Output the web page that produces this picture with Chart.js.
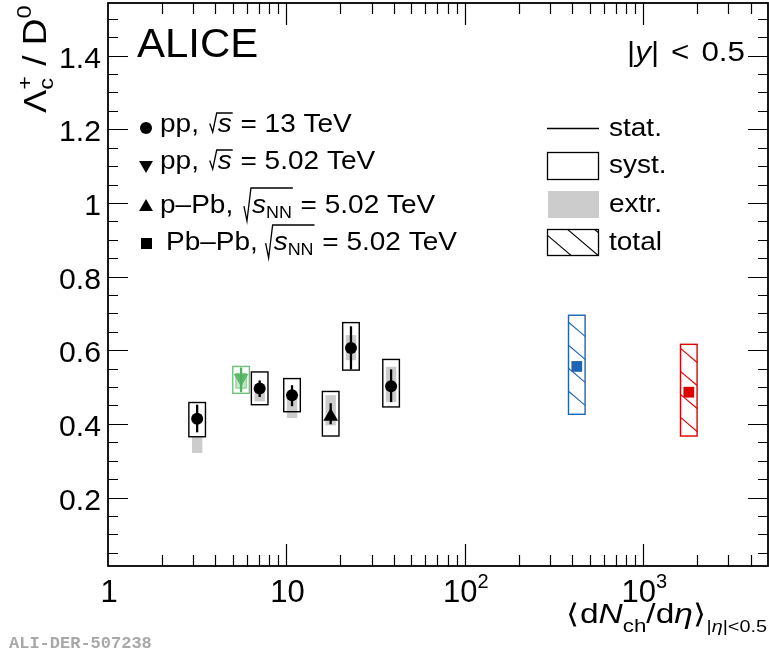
<!DOCTYPE html>
<html>
<head>
<meta charset="utf-8">
<script src="https://cdn.jsdelivr.net/npm/chart.js@4.4.1/dist/chart.umd.min.js"></script>
<style>
  html, body { margin: 0; padding: 0; background: #fff; }
  canvas { display: block; }
</style>
</head>
<body>
<canvas id="myChart" width="769" height="654"></canvas>
<script>
// pp, sqrt(s) = 13 TeV
const pp13X = [3.16, 7.08, 10.75, 23.0, 38.6];
const pp13Y = [0.414, 0.496, 0.478, 0.606, 0.502];
const pp13StatLo = [0.377, 0.473, 0.448, 0.548, 0.459];
const pp13StatHi = [0.452, 0.518, 0.505, 0.665, 0.548];
const pp13SystLo = [0.365, 0.452, 0.433, 0.546, 0.446];
const pp13SystHi = [0.458, 0.541, 0.523, 0.675, 0.575];
const pp13ExtrLo = [0.321, 0.461, 0.416, 0.573, 0.459];
const pp13ExtrHi = [0.365, 0.496, 0.470, 0.641, 0.555];

// pp, sqrt(s) = 5.02 TeV
const pp5X = [5.57];
const pp5Y = [0.524];
const pp5StatLo = [0.486];
const pp5StatHi = [0.553];
const pp5SystLo = [0.483];
const pp5SystHi = [0.556];
const pp5ExtrLo = [0.497];
const pp5ExtrHi = [0.537];

// p-Pb, sqrt(sNN) = 5.02 TeV
const pPbX = [17.7];
const pPbY = [0.420];
const pPbStatLo = [0.399];
const pPbStatHi = [0.456];
const pPbSystLo = [0.367];
const pPbSystHi = [0.488];
const pPbExtrLo = [0.396];
const pPbExtrHi = [0.478];

// Pb-Pb, sqrt(sNN) = 5.02 TeV (total uncertainty only)
const pbpbX = [424, 1799];
const pbpbY = [0.556, 0.486];
const pbpbTotLo = [0.426, 0.367];
const pbpbTotHi = [0.695, 0.616];
const pbpbColors = ['rgb(30,100,180)', 'rgb(222,0,0)'];

// axes
const xMin = 1, xMax = 5000;
const yMin = 0.014, yMax = 1.543;
const xTickVals = [1, 10, 100, 1000];
const xTickBase = ['1', '10', '10', '10'];
const xTickExp = ['', '', '2', '3'];
const yTickVals = [0.2, 0.4, 0.6, 0.8, 1.0, 1.2, 1.4];
const yTickLabels = ['0.2', '0.4', '0.6', '0.8', '1', '1.2', '1.4'];

const SANS = '"Liberation Sans", Arial, Helvetica, sans-serif';
const HW = 8.3;   // half width of syst boxes (px)
const GW = 5.2;   // half width of extr boxes (px)
const SX = 1.12;  // horizontal text stretch of the original
const GREEN = 'rgb(80,178,95)';
const GREEN_BOX = 'rgb(110,195,120)';

const zip = (xs, ys) => xs.map((x, i) => ({ x: x, y: ys[i] }));

function setFont(ctx, size, italic) {
    ctx.font = (italic ? 'italic ' : '') + size + 'px ' + SANS;
}

function partsWidth(ctx, parts, sx) {
    sx = sx || 1;
    let w = 0;
    for (const p of parts) {
        if (p.sqrt) { w += 9 + partsWidth(ctx, p.sqrt, sx); continue; }
        setFont(ctx, p.s, p.i);
        if (!p.noAdv) w += ctx.measureText(p.t).width * sx + (p.gap || 0);
    }
    return w;
}

function drawParts(ctx, x, y, parts, align, sx) {
    sx = sx || 1;
    if (align === 'right') x -= partsWidth(ctx, parts, sx);
    else if (align === 'center') x -= partsWidth(ctx, parts, sx) / 2;
    ctx.textAlign = 'left';
    ctx.textBaseline = 'alphabetic';
    let cx = x;
    for (const p of parts) {
        if (p.sqrt) {
            const inner = partsWidth(ctx, p.sqrt, sx);
            ctx.beginPath();
            ctx.moveTo(cx, y + p.bot - 0.45 * (p.top + p.bot));
            ctx.lineTo(cx + 3, y + p.bot);
            ctx.lineTo(cx + 7, y - p.top);
            ctx.lineTo(cx + 9 + inner, y - p.top);
            ctx.lineWidth = 1.3;
            ctx.strokeStyle = '#000';
            ctx.stroke();
            drawParts(ctx, cx + 8, y, p.sqrt, 'left', sx);
            cx += 9 + inner;
            continue;
        }
        setFont(ctx, p.s, p.i);
        ctx.save();
        ctx.translate(cx, y + (p.dy || 0));
        ctx.scale(sx, 1);
        ctx.fillText(p.t, 0, 0);
        ctx.restore();
        if (!p.noAdv) cx += ctx.measureText(p.t).width * sx + (p.gap || 0);
    }
}

function hatch(ctx, l, t, w, h, color) {
    ctx.save();
    ctx.beginPath();
    ctx.rect(l, t, w, h);
    ctx.clip();
    ctx.strokeStyle = color;
    ctx.lineWidth = 1.1;
    const slope = 0.85, sp = 23;
    const cMin = t - slope * (l + w), cMax = t + h - slope * l;
    for (let k = Math.floor(cMin / sp); k * sp <= cMax; k++) {
        const c = k * sp;
        ctx.beginPath();
        ctx.moveTo(l, slope * l + c);
        ctx.lineTo(l + w, slope * (l + w) + c);
        ctx.stroke();
    }
    ctx.restore();
}

function triPath(ctx, x, y, r, down) {
    const s = down ? -1 : 1;
    ctx.beginPath();
    ctx.moveTo(x, y - s * r);
    ctx.lineTo(x + r * 0.866, y + s * r / 2);
    ctx.lineTo(x - r * 0.866, y + s * r / 2);
    ctx.closePath();
}

// grey extr, syst boxes, stat bars, hatched totals
const errorPlugin = {
    id: 'errors',
    beforeDatasetsDraw(chart) {
        const ctx = chart.ctx;
        const xs = chart.scales.x, ys = chart.scales.y;
        ctx.save();
        chart.data.datasets.forEach(ds => {
            const e = ds.errs;
            ds.data.forEach((pt, i) => {
                const px = xs.getPixelForValue(pt.x);
                if (e.totLo) {
                    const t = ys.getPixelForValue(e.totHi[i]), b = ys.getPixelForValue(e.totLo[i]);
                    const col = e.colors[i];
                    hatch(ctx, px - HW, t, 2 * HW, b - t, col);
                    ctx.strokeStyle = col;
                    ctx.lineWidth = 1.4;
                    ctx.strokeRect(px - HW, t, 2 * HW, b - t);
                    return;
                }
                // extr
                let t = ys.getPixelForValue(e.extrHi[i]), b = ys.getPixelForValue(e.extrLo[i]);
                ctx.fillStyle = e.extrColor;
                ctx.fillRect(px - GW, t, 2 * GW, b - t);
                if (e.extrEdge) {
                    ctx.strokeStyle = e.extrEdge;
                    ctx.lineWidth = 1;
                    ctx.strokeRect(px - GW, t, 2 * GW, b - t);
                }
                // syst
                t = ys.getPixelForValue(e.systHi[i]); b = ys.getPixelForValue(e.systLo[i]);
                ctx.strokeStyle = e.boxColor;
                ctx.lineWidth = 1.4;
                ctx.strokeRect(px - HW, t, 2 * HW, b - t);
                // stat
                t = ys.getPixelForValue(e.statHi[i]); b = ys.getPixelForValue(e.statLo[i]);
                ctx.strokeStyle = e.statColor;
                ctx.lineWidth = 2.3;
                ctx.beginPath();
                ctx.moveTo(px, t);
                ctx.lineTo(px, b);
                ctx.stroke();
            });
        });
        ctx.restore();
    }
};

// ROOT style frame, inward ticks, labels, legend and texts
const framePlugin = {
    id: 'frame',
    afterDraw(chart) {
        const ctx = chart.ctx;
        const a = chart.chartArea;
        const xs = chart.scales.x, ys = chart.scales.y;
        ctx.save();
        ctx.fillStyle = '#000';
        ctx.strokeStyle = '#000';

        // ticks
        ctx.lineWidth = 1.2;
        ctx.beginPath();
        for (let d = 0; d < 4; d++) {
            for (let m = 1; m <= 9; m++) {
                const v = m * Math.pow(10, d);
                if (v <= xMin || v >= xMax) continue;
                const px = Math.round(xs.getPixelForValue(v)) + 0.5;
                const len = m === 1 ? 22 : 11;
                ctx.moveTo(px, a.bottom); ctx.lineTo(px, a.bottom - len);
                ctx.moveTo(px, a.top); ctx.lineTo(px, a.top + len);
            }
        }
        for (let k = 1; k * 0.05 < yMax; k++) {
            const v = k * 0.05;
            if (v <= yMin) continue;
            const py = Math.round(ys.getPixelForValue(v)) + 0.5;
            const len = k % 4 === 0 ? 20 : 10;
            ctx.moveTo(a.left, py); ctx.lineTo(a.left + len, py);
            ctx.moveTo(a.right, py); ctx.lineTo(a.right - len, py);
        }
        ctx.stroke();

        // frame
        ctx.lineWidth = 1.8;
        ctx.strokeRect(a.left, a.top, a.right - a.left, a.bottom - a.top);

        // y tick labels
        yTickVals.forEach((v, i) => {
            drawParts(ctx, 101, ys.getPixelForValue(v) + 12, [{ t: yTickLabels[i], s: 29 }], 'right', 1.04);
        });

        // x tick labels
        xTickVals.forEach((v, i) => {
            const parts = [{ t: xTickBase[i], s: 31 }];
            if (xTickExp[i]) parts.push({ t: xTickExp[i], s: 20, dy: -14 });
            drawParts(ctx, xs.getPixelForValue(v) + 1, 602, parts, 'center');
        });

        // axis titles
        drawParts(ctx, 767, 623, [
            { t: '\u27e8', s: 27 }, { t: 'd', s: 27 }, { t: 'N', s: 27, i: true },
            { t: 'ch', s: 18, dy: 9 }, { t: '/', s: 27 }, { t: 'd', s: 27 },
            { t: '\u03b7', s: 27, i: true }, { t: '\u27e9', s: 27 },
            { t: '|', s: 16, dy: 9 }, { t: '\u03b7', s: 16, dy: 9, i: true },
            { t: '|<0.5', s: 16, dy: 9 }
        ], 'right', 1.24);

        ctx.save();
        ctx.translate(46, 113);
        ctx.rotate(-Math.PI / 2);
        drawParts(ctx, 0, 0, [
            { t: '\u039b', s: 31 }, { t: 'c', s: 21, dy: 7, noAdv: true },
            { t: '+', s: 21, dy: -14 }, { t: ' / D', s: 33 }, { t: '0', s: 21, dy: -15 }
        ], 'left', SX);
        ctx.restore();

        // ALICE and rapidity
        drawParts(ctx, 137, 57, [{ t: 'ALICE', s: 40 }], 'left', 1.05);
        drawParts(ctx, 745, 61, [
            { t: '|', s: 28 }, { t: 'y', s: 28, i: true }, { t: '|', s: 28, gap: 12 },
            { t: '<', s: 28, gap: 12 }, { t: '0.5', s: 28 }
        ], 'right', SX);

        // left legend
        const LS = 25;
        ctx.fillStyle = '#000';
        ctx.beginPath();
        ctx.arc(146, 128, 6, 0, Math.PI * 2);
        ctx.fill();
        triPath(ctx, 146, 165, 8, true); ctx.fill();
        triPath(ctx, 146, 207, 8, false); ctx.fill();
        ctx.fillRect(141, 238, 11, 11);
        const sq = [{ t: 's', s: LS, i: true }];
        const sqNN = [{ t: 's', s: LS, i: true }, { t: 'NN', s: 16, dy: 5 }];
        drawParts(ctx, 160, 132, [{ t: 'pp, ', s: LS, gap: 3 }, { sqrt: sq, top: 19, bot: 0 }, { t: ' = 13 TeV', s: LS }], 'left', SX);
        drawParts(ctx, 160, 169, [{ t: 'pp, ', s: LS, gap: 3 }, { sqrt: sq, top: 19, bot: 0 }, { t: ' = 5.02 TeV', s: LS }], 'left', SX);
        drawParts(ctx, 160, 213, [{ t: 'p\u2013Pb, ', s: LS, gap: 3 }, { sqrt: sqNN, top: 25, bot: 8 }, { t: ' = 5.02 TeV', s: LS }], 'left', SX);
        drawParts(ctx, 166, 250, [{ t: 'Pb\u2013Pb, ', s: LS }, { sqrt: sqNN, top: 25, bot: 8 }, { t: ' = 5.02 TeV', s: LS }], 'left', SX);

        // right legend
        ctx.strokeStyle = '#000';
        ctx.lineWidth = 1.6;
        ctx.beginPath();
        ctx.moveTo(547, 128.5); ctx.lineTo(599, 128.5);
        ctx.stroke();
        ctx.lineWidth = 1.3;
        ctx.strokeRect(547.5, 152.5, 51, 27);
        ctx.fillStyle = '#cccccc';
        ctx.fillRect(548, 191, 51, 27);
        hatch(ctx, 547.5, 229.5, 51, 26, '#000');
        ctx.strokeStyle = '#000';
        ctx.strokeRect(547.5, 229.5, 51, 26);
        ctx.fillStyle = '#000';
        drawParts(ctx, 609, 136, [{ t: 'stat.', s: LS }], 'left', SX);
        drawParts(ctx, 609, 173, [{ t: 'syst.', s: LS }], 'left', SX);
        drawParts(ctx, 609, 212, [{ t: 'extr.', s: LS }], 'left', SX);
        drawParts(ctx, 609, 250, [{ t: 'total', s: LS }], 'left', SX);

        // figure id
        ctx.font = 'bold 17px "Liberation Mono", "DejaVu Sans Mono", monospace';
        ctx.fillStyle = '#a8a8a8';
        ctx.textAlign = 'left';
        ctx.textBaseline = 'alphabetic';
        ctx.fillText('ALI-DER-507238', 9, 648);
        ctx.restore();
    }
};

const ctx = document.getElementById('myChart').getContext('2d');

const data = {
    datasets: [
        {
            label: 'pp 13 TeV',
            data: zip(pp13X, pp13Y),
            pointStyle: 'circle',
            pointRadius: 6,
            backgroundColor: '#000',
            borderColor: '#000',
            borderWidth: 0,
            errs: { statLo: pp13StatLo, statHi: pp13StatHi, systLo: pp13SystLo, systHi: pp13SystHi,
                    extrLo: pp13ExtrLo, extrHi: pp13ExtrHi, extrColor: '#cccccc',
                    boxColor: '#000', statColor: '#000' }
        },
        {
            label: 'pp 5.02 TeV',
            data: zip(pp5X, pp5Y),
            pointStyle: 'triangle',
            pointRotation: 180,
            pointRadius: 8.5,
            backgroundColor: 'rgba(80,178,95,0.85)',
            borderWidth: 0,
            errs: { statLo: pp5StatLo, statHi: pp5StatHi, systLo: pp5SystLo, systHi: pp5SystHi,
                    extrLo: pp5ExtrLo, extrHi: pp5ExtrHi, extrColor: 'rgba(120,200,130,0.45)',
                    extrEdge: 'rgba(110,195,120,0.8)', boxColor: GREEN_BOX, statColor: GREEN }
        },
        {
            label: 'p-Pb 5.02 TeV',
            data: zip(pPbX, pPbY),
            pointStyle: 'triangle',
            pointRadius: 8.5,
            backgroundColor: '#000',
            borderWidth: 0,
            errs: { statLo: pPbStatLo, statHi: pPbStatHi, systLo: pPbSystLo, systHi: pPbSystHi,
                    extrLo: pPbExtrLo, extrHi: pPbExtrHi, extrColor: '#cccccc',
                    boxColor: '#000', statColor: '#000' }
        },
        {
            label: 'Pb-Pb 5.02 TeV',
            data: zip(pbpbX, pbpbY),
            pointStyle: 'rect',
            pointRadius: 7.6,
            backgroundColor: pbpbColors,
            borderWidth: 0,
            errs: { totLo: pbpbTotLo, totHi: pbpbTotHi, colors: pbpbColors }
        }
    ]
};

const config = {
    type: 'scatter',
    data: data,
    options: {
        responsive: false,
        animation: false,
        layout: { autoPadding: false, padding: { left: 108, top: 3, right: 1, bottom: 88 } },
        plugins: { legend: { display: false }, tooltip: { enabled: false } },
        scales: {
            x: { type: 'logarithmic', min: xMin, max: xMax, display: false },
            y: { type: 'linear', min: yMin, max: yMax, display: false }
        }
    },
    plugins: [errorPlugin, framePlugin]
};

const mychart = new Chart(ctx, config);
</script>
</body>
</html>
